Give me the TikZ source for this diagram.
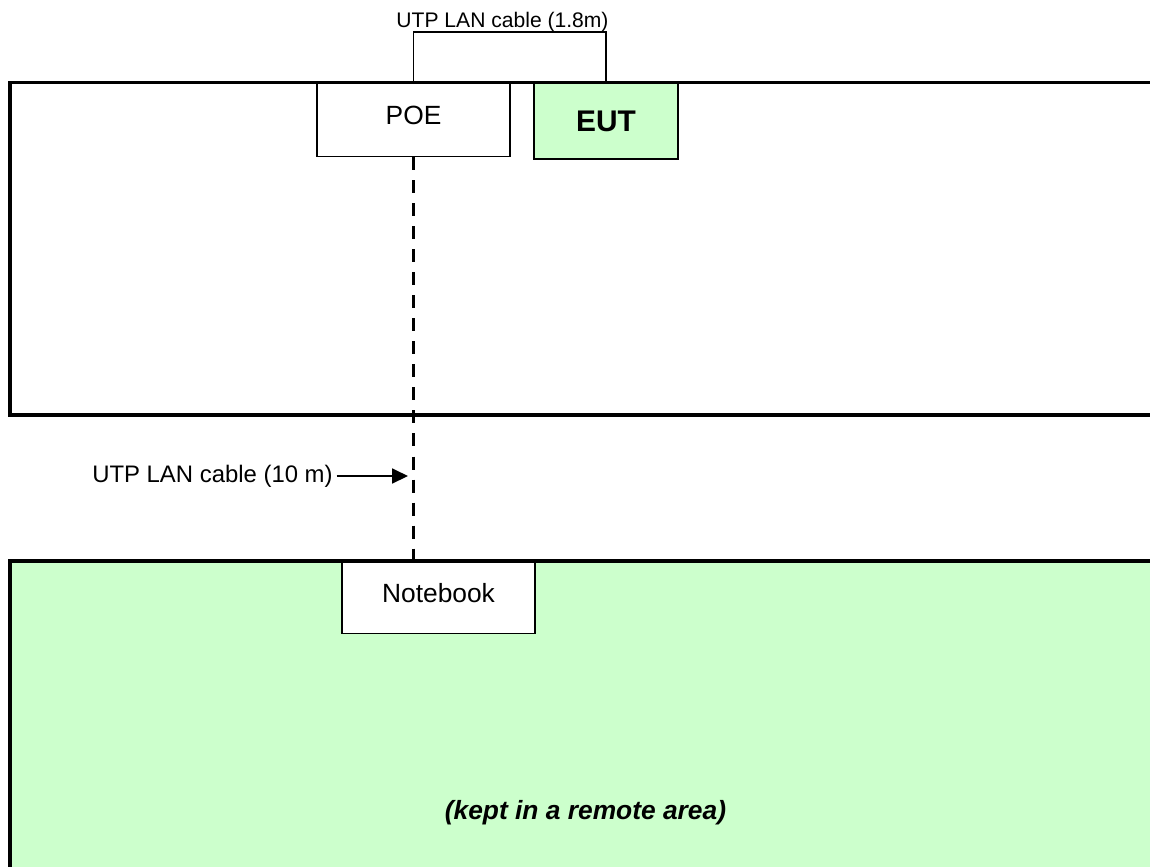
\documentclass[tikz,border=0pt]{standalone}
\usepackage{fontspec}
\setmainfont{Liberation Sans}
\usetikzlibrary{arrows.meta,positioning}
\definecolor{green1}{RGB}{204,255,204}

\begin{document}
\begin{tikzpicture}
[x=0.02cm,y=-0.02cm,
box/.style ={draw, line width=0.9pt, fill=white, inner sep=0pt,
minimum width=3.86cm, minimum height=1.48cm},
wall/.style ={draw, line width=2pt},
cable/.style ={draw, line width=1.7pt, dash pattern=on 7.4pt off 5.7pt},
wire/.style ={draw, line width=0.85pt},
note/.style ={inner sep=0pt, font=\fontsize{13.6pt}{15pt}\selectfont}]
\useasboundingbox (0,0) rectangle (1150,867);
%remote area
\fill [green1] (10,561) rectangle (1150,867);

\node [box]                  (poe)   at (413.5, 119.5)  {\raisebox{5pt}{\fontsize{15pt}{17pt}\selectfont POE}};
\node [box, fill=green1, minimum width=2.88cm, minimum height=1.52cm]
                             (eut)   at (606, 121)      {\fontsize{17pt}{19pt}\selectfont\bfseries EUT};
\node [box, minimum height=1.46cm]
                             (nb)    at (438.5, 597)    {\raisebox{5pt}{\fontsize{15pt}{17pt}\selectfont Notebook}};

%rooms
\draw [wall] (1150,82.5) -- (10,82.5) -- (10,415) -- (1150,415);
\draw [wall] (1150,561) -- (10,561) -- (10,867);

\node [note, font=\fontsize{12pt}{14pt}\selectfont] (l18)  at (502.5, 22)   {UTP LAN cable (1.8m)};
\node [note, anchor=east]                        (l10)  at (333, 476)   {UTP LAN cable (10 m)};
\node [inner sep=0pt, font=\fontsize{15pt}{17pt}\selectfont\bfseries\itshape]
                                                 (rem)  at (585.5, 813) {(kept in a remote area)};
\coordinate (hit) at (408, 476);

\draw [wire] (poe.north) -- ++(0,-49.5) -| (eut.north);
\draw [cable] (poe.south) -- (poe.south |- 0,561);
\draw [wire, -{Triangle[length=9pt,width=8.5pt]}] ([xshift=2pt]l10.east) -- (hit);

\end{tikzpicture}
\end{document}
